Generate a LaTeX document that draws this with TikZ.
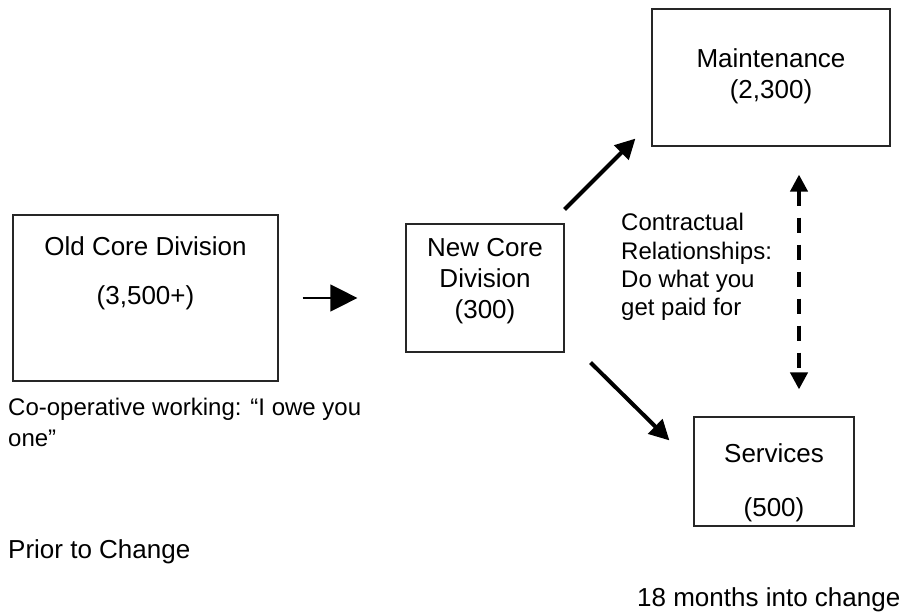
\documentclass[tikz,border=0pt]{standalone}
\usepackage{fontspec}
\setmainfont{Liberation Sans}
\usetikzlibrary{arrows.meta,calc}

\tikzset{
  unit/.style={rectangle, draw=black!85, line width=1.2pt, inner sep=0pt},
  lbl/.style={align=center, inner sep=0pt, anchor=north, font=\fontsize{26}{31}\selectfont},
  note/.style={align=left, inner sep=0pt, anchor=north west, font=\fontsize{24}{28.3}\selectfont},
  caption/.style={anchor=base west, inner sep=0pt, font=\fontsize{26}{31}\selectfont},
  handover/.style={line width=1.2pt, -{Triangle[length=27pt,width=27pt]}, shorten <=24pt, shorten >=48pt},
  link/.style={line width=4pt, -{Triangle[length=20pt,width=20pt]}},
  duty/.style={line width=4pt, dash pattern=on 15pt off 12pt, {Triangle[length=17pt,width=17pt]}-{Triangle[length=17pt,width=17pt]}},
}

\begin{document}
\begin{tikzpicture}[x=1pt,y=-1pt]
\useasboundingbox (0,0) rectangle (907,612);

% units, before and after
\node [unit, minimum width=265pt, minimum height=166pt] (oldcore) at (145.5,298) {};
\node [unit, minimum width=158pt, minimum height=128pt] (newcore) at (485,288) {};
\node [unit, minimum width=238pt, minimum height=137pt] (maint) at (771,77.5) {};
\node [unit, minimum width=160pt, minimum height=109pt] (services) at (774,471.5) {};

\node [lbl] (oldcore-txt) at ($(oldcore.north)+(0,21.7)$) {Old Core Division\\[18pt](3,500+)};
\node [lbl] (newcore-txt) at ($(newcore.north)+(0,14.7)$) {New Core\\Division\\(300)};
\node [lbl] (maint-txt) at ($(maint.north)+(0,39.7)$) {Maintenance\\(2,300)};
\node [lbl] (services-txt) at ($(services.north)+(0,26.7)$) {Services\\[23.5pt](500)};

% relationships
\node [note] (contract) at (621,213.4) {Contractual\\Relationships:\\Do what you\\get paid for};
\node [note, font=\fontsize{24}{31}\selectfont] (coop) at (8,398.4) {Co-operative working: “I owe you\\one”};

\node [caption] (before) at (8,558) {Prior to Change};
\node [caption] (after) at (637,606.4) {18 months into change};

\draw [handover] (oldcore.east) -- (oldcore.east -| newcore.west);
\draw [link] ($(newcore.north east)+(0,-14)$) -- ($(maint.south west)+(-16,-8)$);
\draw [link] ($(newcore.south east)+(26,10)$) -- ($(services.north west)+(-24,24)$);
\draw [duty] ($(maint.south)+(28,28)$) -- ($(services.north)+(25,-27)$);

\end{tikzpicture}
\end{document}
